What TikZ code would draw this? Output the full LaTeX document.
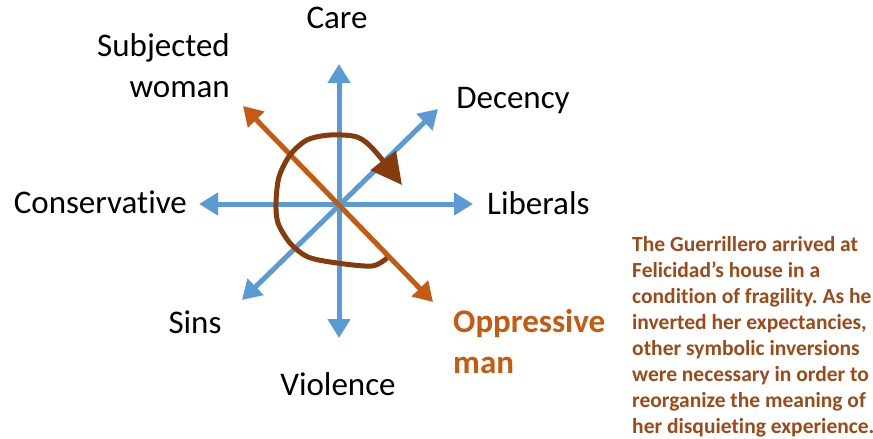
\documentclass[tikz,border=0pt]{standalone}
\usepackage{fontspec}
\setmainfont{Carlito}[Ligatures=NoCommon]
\usetikzlibrary{arrows.meta}
\definecolor{axisblue}{HTML}{5B9BD5}
\definecolor{axisorange}{HTML}{C55A11}
\definecolor{loopbrown}{HTML}{843C0C}
\definecolor{notebrown}{HTML}{9C4A1A}
\frenchspacing

\begin{document}
\begin{tikzpicture}[x=1pt,y=-1pt,
    >={Triangle[length=19pt,width=22pt]},
    blueaxis/.style={draw=axisblue,fill=axisblue,line width=5pt,<->},
    orangeaxis/.style={draw=axisorange,fill=axisorange,line width=5pt,<->},
    pole/.style={font=\fontsize{33}{41}\selectfont,inner sep=0pt}]

  \useasboundingbox (0,0) rectangle (873,439);

  \coordinate (n)  at (339,64);
  \coordinate (s)  at (339,338);
  \coordinate (w)  at (199,204);
  \coordinate (e)  at (473,204);
  \coordinate (ne) at (438,109);
  \coordinate (sw) at (242,300);
  \coordinate (nw) at (243,106);
  \coordinate (se) at (433,302);

  \begin{scope}[every node/.style={pole}]
    \node[anchor=base]       (care)    at (337,28)  {Care};
    \node[anchor=base]       (decency) at (513,108) {Decency};
    \node[anchor=base east,align=right] (woman) at (230,97) {Subjected\\woman};
    \node[anchor=base east]  (cons)    at (187,213) {Conservative};
    \node[anchor=base west]  (liberal) at (487,214) {Liberals};
    \node[anchor=base]       (sins)    at (195,333) {Sins};
    \node[anchor=base]       (violence) at (338,395) {Violence};
    \node[anchor=base west,align=left,text=axisorange,font=\bfseries\fontsize{33}{41}\selectfont]
                             (man)     at (453,373) {Oppressive\\man};
  \end{scope}

  \draw[blueaxis] (w) -- (e);
  \draw[blueaxis] (s) -- (n);
  \draw[blueaxis] (sw) -- (ne);
  \draw[orangeaxis] (nw) -- (se);

  \draw[loopbrown,line width=5pt,line join=round,
        -{Triangle[length=31pt,width=31pt]}]
    plot[smooth] coordinates {(387,258) (372,266) (337,263) (308,257) (290,243)
      (278,223) (276,203) (279,177) (290,155) (307,140) (330,135) (357,137)
      (374,150) (402,185)};

  \node[anchor=base west,align=left,inner sep=0pt,text=notebrown,
        font=\bfseries\fontsize{21.5}{26}\selectfont] (note) at (632,433)
    {The Guerrillero arrived at\\
     Felicidad’s house in a\\
     condition of fragility. As he\\
     inverted her expectancies,\\
     other symbolic inversions\\
     were necessary in order to\\
     reorganize the meaning of\\
     her disquieting experience.};

\end{tikzpicture}
\end{document}
